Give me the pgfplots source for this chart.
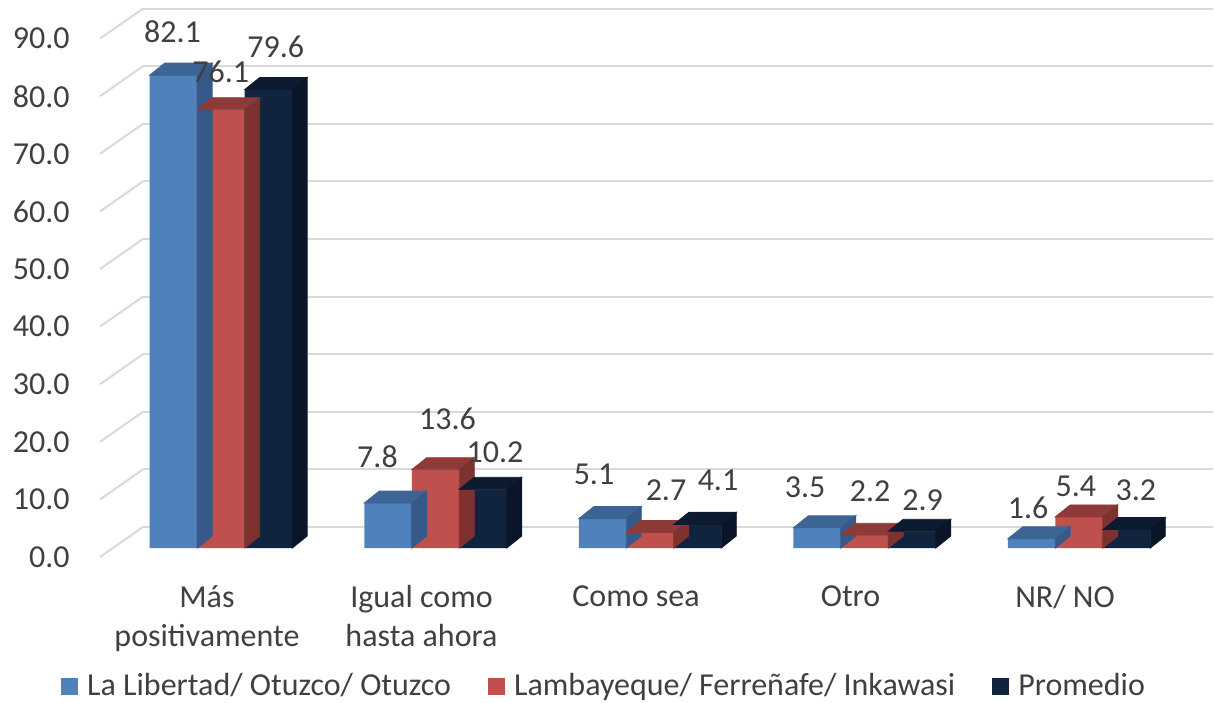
\documentclass[border=0pt]{standalone}
\usepackage{fontspec}
\setmainfont{Carlito}
\usepackage{pgfplots}
\usepackage{pgfplotstable}
\pgfplotsset{compat=1.18}
\definecolor{txt}{HTML}{404040}
\definecolor{gridc}{HTML}{D9D9D9}
\definecolor{bF}{HTML}{4F81BD}
\definecolor{bT}{HTML}{3C6494}
\definecolor{bS}{HTML}{36598A}
\definecolor{rF}{HTML}{C0504D}
\definecolor{rT}{HTML}{8E3A38}
\definecolor{rS}{HTML}{7E3230}
\definecolor{nF}{HTML}{11243F}
\definecolor{nT}{HTML}{0D1B31}
\definecolor{nS}{HTML}{0A1628}
\pgfdeclareplotmark{nothing}{}
% values, then label offsets (pt) for each series
\pgfplotstableread{
x lib lam prom  bdx   bdy   rdx  rdy   ndx   ndy
0 82.1 76.1 79.6 -0.5  21.7  -0.1 19.0  3.65  21.4
1 7.8 13.6 10.2  -5.25 23.2  6.0  25.35 6.0   18.35
2 5.1 2.7 4.1    -4.25 22.3  8.0  21.35 10.25 22.05
3 3.5 2.2 2.9    -6.0  20.15 2.75 21.8  5.25  15.65
4 1.6 5.4 3.2    -1.75 15.25 -1.6 15.1  4.65  19.8
}\datatable
\pgfplotsset{
  face3d/.style n args={3}{forget plot, only marks, mark=nothing, scatter,
    visualization depends on={y \as \barval},
    scatter/@pre marker code/.code={%
      \pgfmathsetmacro\bh{\barval*2.88}%
      \fill[#2] (#1-11.875pt,0pt) -- ++(7.5pt,6pt) -- ++(23.75pt,0pt) -- ++(-7.5pt,-6pt) -- cycle;
      \fill[#3] (#1+11.875pt,0pt) -- ++(7.5pt,6pt) -- ++(0pt,-\bh pt) -- ++(-7.5pt,-6pt) -- cycle;
    },
    scatter/@post marker code/.code={},
  },
  barstyle/.style n args={4}{ybar, bar width=23.75pt, bar shift=#1, fill=#2, draw=none,
    visualization depends on={\thisrow{#3} \as \ldx},
    visualization depends on={\thisrow{#4} \as \ldy},
    nodes near coords={\pgfmathprintnumber[fixed,fixed zerofill,precision=1]{\pgfplotspointmeta}},
    every node near coord/.append style={anchor=center, xshift={#1+\ldx pt}, yshift={\ldy pt}, text=txt},
    legend image code/.code={\fill[##1,draw=none] (0pt,-4.25pt) rectangle (8.5pt,4.25pt);},
  },
}
\begin{document}
\begin{tikzpicture}[font=\fontsize{16}{19.5}\selectfont, text=txt]
\useasboundingbox (-50pt,-77pt) rectangle (557pt,274pt);
\begin{axis}[
  at={(0,0)}, anchor=south west, scale only axis,
  width=535pt, height=259.2pt,
  xmin=-0.564, xmax=4.424, ymin=0, ymax=90,
  clip=false,
  axis line style={draw=none}, tick style={draw=none}, major tick length=0pt,
  /pgf/number format/assume math mode=true,
  ytick={0,10,...,90},
  yticklabel style={/pgf/number format/.cd,fixed,fixed zerofill,precision=1,/tikz/.cd, anchor=east, inner sep=0pt, xshift=-15pt, yshift=-4.5pt},
  xtick={0,1,2,3,4},
  xticklabels={{Más\\positivamente},{Igual como\\hasta ahora},{Como sea},{Otro},{NR/ NO}},
  xticklabel style={align=center, anchor=north, inner sep=0pt, xshift=-7pt, yshift=-18.5pt},
  ymajorgrids, major grid style={gridc, line width=1pt, xshift=21.5pt, yshift=10.5pt},
  legend style={at={(0.472,0)}, anchor=center, yshift=-69pt, draw=none, fill=none,
    legend columns=3, /tikz/every even column/.append style={column sep=16.5pt},
    /tikz/every odd column/.append style={column sep=2.5pt}},
]
\pgfplotsinvokeforeach{0,10,...,90}{
  \draw[gridc, line width=1pt] ([yshift=-4.5pt]axis cs:-0.564,#1) -- ([xshift=21.5pt,yshift=10.5pt]axis cs:-0.564,#1);
}
\addplot[barstyle={-23.75pt}{bF}{bdx}{bdy}] table[x=x,y=lib] {\datatable};
\addlegendentry{La Libertad/ Otuzco/ Otuzco}
\addplot[face3d={-23.75pt}{bT}{bS}] table[x=x,y=lib] {\datatable};
\addplot[barstyle={0pt}{rF}{rdx}{rdy}] table[x=x,y=lam] {\datatable};
\addlegendentry{Lambayeque/ Ferreñafe/ Inkawasi}
\addplot[face3d={0pt}{rT}{rS}] table[x=x,y=lam] {\datatable};
\addplot[barstyle={23.75pt}{nF}{ndx}{ndy}] table[x=x,y=prom] {\datatable};
\addlegendentry{Promedio}
\addplot[face3d={23.75pt}{nT}{nS}] table[x=x,y=prom] {\datatable};
\end{axis}
\end{tikzpicture}
\end{document}
